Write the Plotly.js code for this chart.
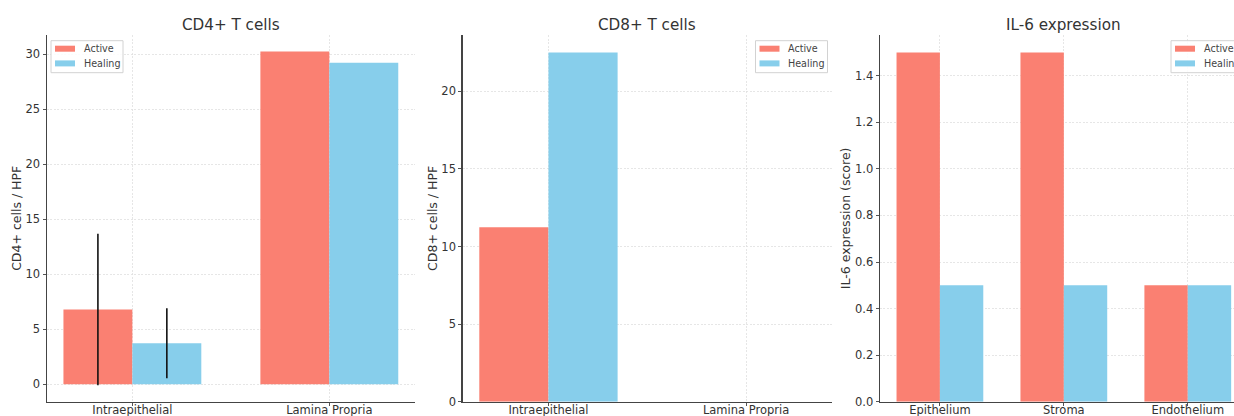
<!DOCTYPE html>
<html>
<head>
<meta charset="utf-8">
<script src="https://cdn.plot.ly/plotly-3.0.1.min.js"></script>
<style>
html,body{margin:0;padding:0;background:#fff;}
#chart{width:1234px;height:416px;}
</style>
</head>
<body>
<div id="chart"></div>
<script>
// ---- data ----
const cd4Categories = ["Intraepithelial", "Lamina Propria"];
const cd4Active = [6.8, 30.25];
const cd4Healing = [3.73, 29.23];
const cd4ActiveErr = [6.88, null];
const cd4HealingErr = [3.18, null];

const cd8Categories = ["Intraepithelial", "Lamina Propria"];
const cd8Active = [11.24, null];
const cd8Healing = [22.5, null];

const il6Categories = ["Epithelium", "Stroma", "Endothelium"];
const il6Active = [1.5, 1.5, 0.5];
const il6Healing = [0.5, 0.5, 0.5];

const panelTitles = ["CD4+ T cells", "CD8+ T cells", "IL-6 expression"];
const yTitles = ["CD4+ cells / HPF", "CD8+ cells / HPF", "IL-6 expression (score)"];
const seriesNames = ["Active", "Healing"];

// ---- style ----
const ACTIVE = "#FA8072";
const HEALING = "#87CEEB";
const FONT = "DejaVu Sans, sans-serif";
const TXT = "#333333";
const W = 1234, H = 416;
const px = v => v / W;
const py = v => 1 - v / H;

const yDomain = [py(401.7), py(35)];

function bar(x, y, name, color, xa, ya, err) {
  const t = {
    type: "bar", x: x, y: y, name: name, xaxis: xa, yaxis: ya,
    marker: {color: color, line: {width: 0}},
    showlegend: false, hoverinfo: "x+y+name"
  };
  if (err) {
    t.error_y = {type: "data", array: err, visible: true, color: "#111", thickness: 1.6, width: 0};
  }
  return t;
}

const data = [
  bar(cd4Categories, cd4Active, seriesNames[0], ACTIVE, "x", "y", cd4ActiveErr),
  bar(cd4Categories, cd4Healing, seriesNames[1], HEALING, "x", "y", cd4HealingErr),
  bar(cd8Categories, cd8Active, seriesNames[0], ACTIVE, "x2", "y2"),
  bar(cd8Categories, cd8Healing, seriesNames[1], HEALING, "x2", "y2"),
  bar(il6Categories, il6Active, seriesNames[0], ACTIVE, "x3", "y3"),
  bar(il6Categories, il6Healing, seriesNames[1], HEALING, "x3", "y3")
];

const GRID = {showgrid: true, gridcolor: "#e0e0e0", gridwidth: 0.8, griddash: "2px,1.5px"};

function xAxis(domain, range, anchor) {
  return Object.assign({
    domain: domain, range: range, anchor: anchor, type: "category",
    showline: true, linecolor: "#444", linewidth: 1.2,
    ticks: "outside", ticklen: 3, tickwidth: 1, tickcolor: "#555",
    ticklabelstandoff: -6,
    tickfont: {family: FONT, size: 11.5, color: TXT},
    zeroline: false, fixedrange: true
  }, GRID);
}
function yAxis(range, dtick, fmt, title, anchor) {
  return Object.assign({
    domain: yDomain, range: range, anchor: anchor, dtick: dtick, tick0: 0, tickformat: fmt,
    showline: true, linecolor: "#444", linewidth: 1.2,
    ticks: "outside", ticklen: 3, tickwidth: 1, tickcolor: "#555",
    tickfont: {family: FONT, size: 11.5, color: TXT},
    title: {text: title, font: {family: FONT, size: 12.5, color: TXT}, standoff: 1},
    zeroline: false, fixedrange: true
  }, GRID);
}

// matplotlib-style legends: box, colour patches, labels
const shapes = [];
const annotations = panelTitles.map((t, i) => ({
  text: t, xref: "paper", yref: "paper",
  x: [px(231), px(647.3), px(1063.8)][i], y: py(25),
  xanchor: "center", yanchor: "middle", showarrow: false,
  font: {family: FONT, size: 15.2, color: TXT}
}));
const legendLefts = [51, 755.5, 1171];
const seriesColors = [ACTIVE, HEALING];
legendLefts.forEach(left => {
  shapes.push({
    type: "rect", xref: "paper", yref: "paper", layer: "above",
    x0: px(left), x1: px(left + 72), y0: py(72.7), y1: py(40.7),
    fillcolor: "rgba(255,255,255,0.85)", line: {color: "#d2d2d2", width: 1}
  });
  seriesNames.forEach((name, k) => {
    const cy = 48.7 + k * 14.7;
    shapes.push({
      type: "rect", xref: "paper", yref: "paper", layer: "above",
      x0: px(left + 4), x1: px(left + 24), y0: py(cy + 3), y1: py(cy - 3),
      fillcolor: seriesColors[k], line: {width: 0}
    });
    annotations.push({
      text: name, xref: "paper", yref: "paper",
      x: px(left + 31), y: py(cy), xanchor: "left", yanchor: "middle",
      showarrow: false, font: {family: FONT, size: 9.6, color: "#444"}
    });
  });
});

const layout = {
  width: W, height: H,
  margin: {l: 0, r: 0, t: 0, b: 0, autoexpand: false},
  paper_bgcolor: "#fff", plot_bgcolor: "#fff",
  barmode: "group", bargap: 0.3, bargroupgap: 0,
  font: {family: FONT, color: TXT},
  xaxis: xAxis([px(46.7), px(415)], [-0.435, 1.435], "y"),
  yaxis: yAxis([-1.58, 31.76], 5, "d", yTitles[0], "x"),
  xaxis2: xAxis([px(462.5), px(832)], [-0.435, 1.435], "y2"),
  yaxis2: yAxis([0, 23.63], 5, "d", yTitles[1], "x2"),
  xaxis3: xAxis([px(879.8), 1], [-0.485, 2.373], "y3"),
  yaxis3: yAxis([0, 1.575], 0.2, ".1f", yTitles[2], "x3"),
  shapes: shapes,
  annotations: annotations,
  showlegend: false
};

Plotly.newPlot("chart", data, layout, {displayModeBar: false, staticPlot: true});
</script>
</body>
</html>
